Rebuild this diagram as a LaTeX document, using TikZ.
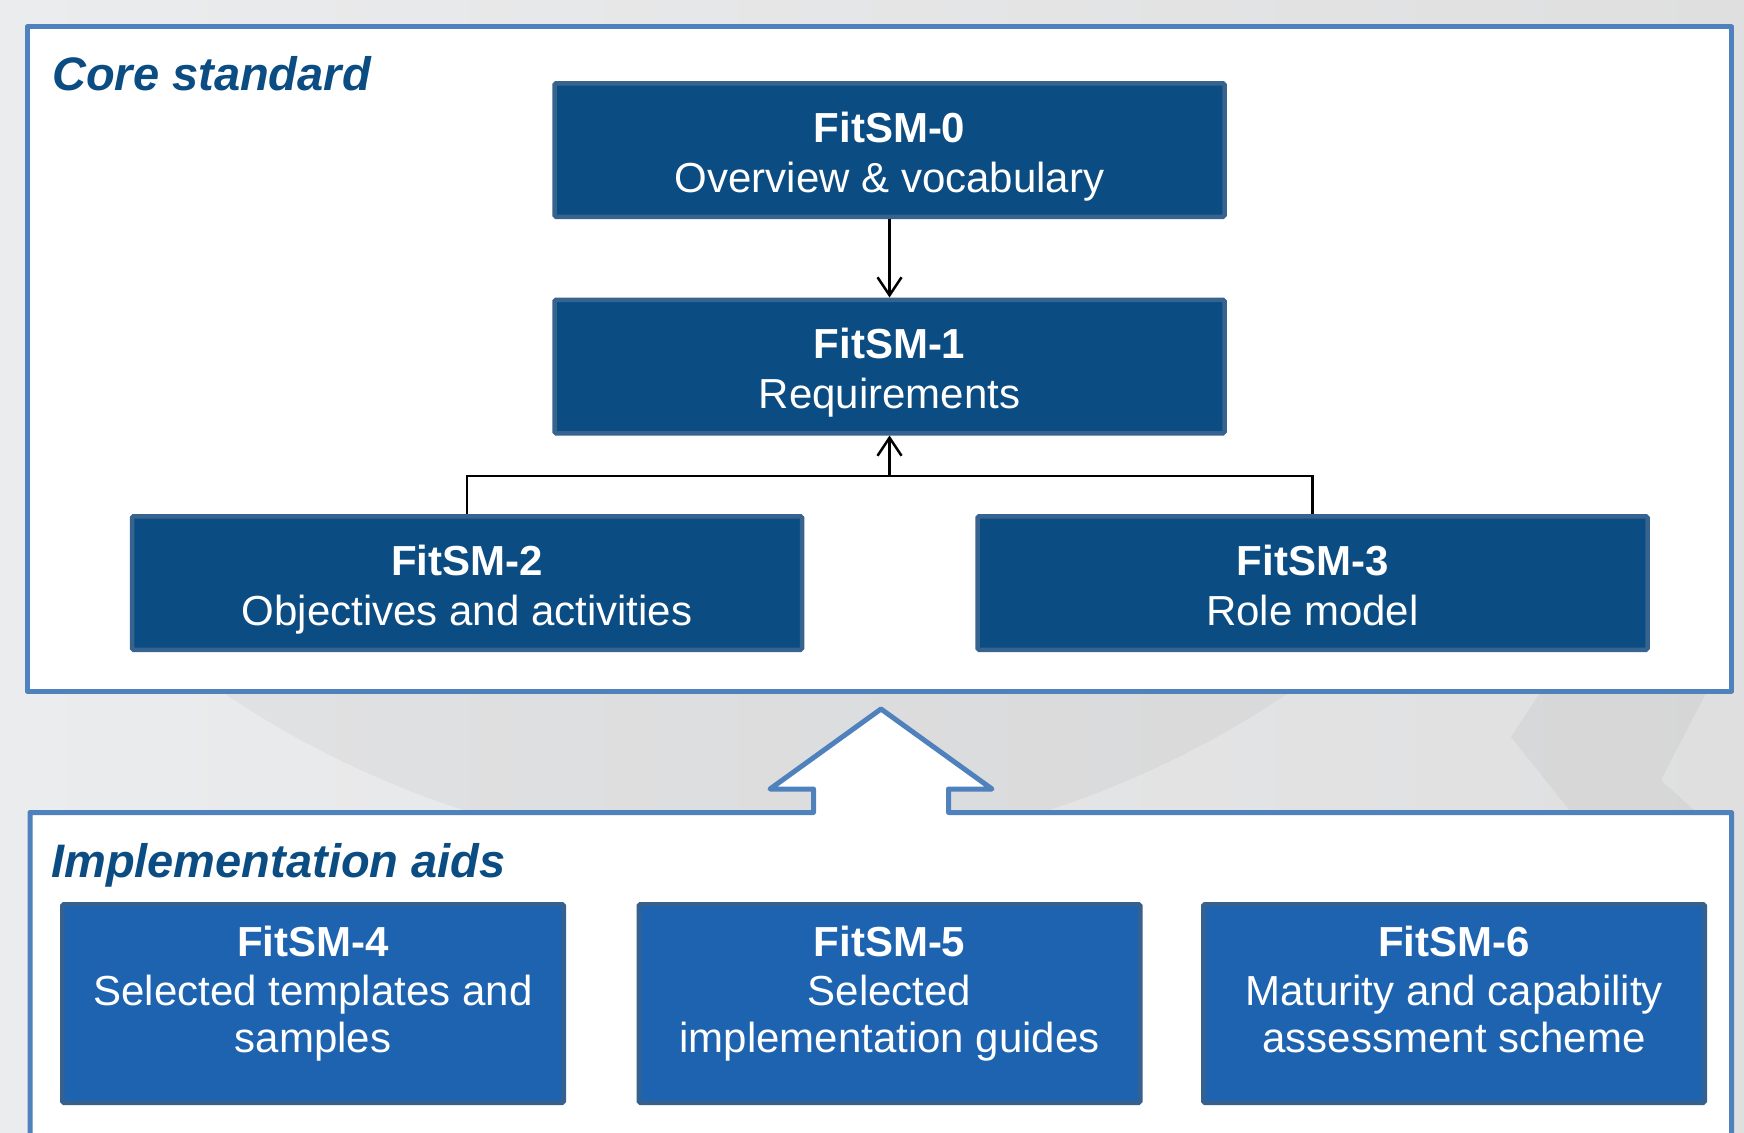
\documentclass[tikz,border=0pt]{standalone}
\usepackage{fontspec}
\setmainfont{Liberation Sans}
\usetikzlibrary{arrows.meta}
\definecolor{framebl}{HTML}{4F81BD}
\definecolor{coredark}{HTML}{0B4C82}
\definecolor{coreedge}{HTML}{37638F}
\definecolor{aidfill}{HTML}{1E63B0}
\definecolor{aidedge}{HTML}{36618E}
\definecolor{headblue}{HTML}{0B4C82}
\definecolor{bgleft}{HTML}{EBECED}
\definecolor{bgright}{HTML}{DFDFE0}
\begin{document}
\begin{tikzpicture}[x=1pt,y=-1pt,
  frame/.style={draw=framebl, fill=white, line width=5pt, line join=round},
  corebox/.style={draw=coreedge, fill=coredark, line width=4.5pt, inner sep=0pt,
    minimum width=670pt, minimum height=133.5pt, rounded corners=1.5pt},
  aidbox/.style={draw=aidedge, fill=aidfill, line width=4.5pt, inner sep=0pt,
    minimum width=501.5pt, minimum height=198.5pt, rounded corners=1.5pt},
  boxhead/.style={anchor=base, inner sep=0pt, text=white,
    font=\fontsize{42pt}{50pt}\selectfont\bfseries},
  boxline/.style={anchor=base, inner sep=0pt, text=white,
    font=\fontsize{42pt}{50pt}\selectfont},
  section/.style={anchor=base west, inner sep=0pt, text=headblue,
    font=\fontsize{47pt}{56pt}\selectfont\bfseries\itshape},
  conn/.style={draw=black, line width=2.5pt},
  tip/.style={-{Straight Barb[length=18pt,width=24pt]}}
]
\useasboundingbox (0,0) rectangle (1744,1132);

% backdrop
\shade[left color=bgleft, right color=bgright] (0,0) rectangle (1744,1132);
\begin{scope}
  \clip (0,680) rectangle (1744,830);
  \fill[black, opacity=0.035] (756,-94) circle[radius=950];
\end{scope}
\fill[black, opacity=0.04] (1541,691) -- (1511,737) -- (1571,812) -- (1696,812)
  -- (1661,780) -- (1707,691) -- cycle;

% core standard frame
\draw[frame] (27,27) rectangle (1731.5,691);
\node[section] (coretitle) at (52,90) {Core standard};

% implementation aids frame with the upward arrow
\draw[frame] (30,1145) -- (30,812.5) -- (813.5,812.5) -- (813.5,789) -- (770,789)
  -- (881,709) -- (992,789) -- (948.5,789) -- (948.5,812.5) -- (1731.5,812.5)
  -- (1731.5,1145) -- cycle;
\node[section] (aidtitle) at (51,877) {Implementation aids};

% core documents
\node[corebox] (f0) at (889.5,150) {};
\node[corebox] (f1) at (889.5,366.5) {};
\node[corebox] (f2) at (467,583) {};
\node[corebox] (f3) at (1312.5,583) {};

\node[boxhead] (f0a) at ([yshift=8pt]f0.center) {FitSM-0};
\node[boxline] (f0b) at ([yshift=-42pt]f0.center) {Overview \& vocabulary};
\node[boxhead] (f1a) at ([yshift=8pt]f1.center) {FitSM-1};
\node[boxline] (f1b) at ([yshift=-42pt]f1.center) {Requirements};
\node[boxhead] (f2a) at ([yshift=8pt]f2.center) {FitSM-2};
\node[boxline] (f2b) at ([yshift=-42pt]f2.center) {Objectives and activities};
\node[boxhead] (f3a) at ([yshift=8pt]f3.center) {FitSM-3};
\node[boxline] (f3b) at ([yshift=-42pt]f3.center) {Role model};

% connectors
\coordinate (jn) at (889.5,476);
\draw[conn, tip] (f0.south) -- (f1.north);
\draw[conn] (f2.north) |- (jn) -| (f3.north);
\draw[conn, tip] (jn) -- (f1.south);

% implementation aid documents
\node[aidbox] (f4) at (313,1003.5) {};
\node[aidbox] (f5) at (889.5,1003.5) {};
\node[aidbox] (f6) at (1454,1003.5) {};

\node[boxhead] (f4a) at ([yshift=47.5pt]f4.center) {FitSM-4};
\node[boxline] (f4b) at ([yshift=-1.5pt]f4.center) {Selected templates and};
\node[boxline] (f4c) at ([yshift=-48.5pt]f4.center) {samples};
\node[boxhead] (f5a) at ([yshift=47.5pt]f5.center) {FitSM-5};
\node[boxline] (f5b) at ([yshift=-1.5pt]f5.center) {Selected};
\node[boxline] (f5c) at ([yshift=-48.5pt]f5.center) {implementation guides};
\node[boxhead] (f6a) at ([yshift=47.5pt]f6.center) {FitSM-6};
\node[boxline] (f6b) at ([yshift=-1.5pt]f6.center) {Maturity and capability};
\node[boxline] (f6c) at ([yshift=-48.5pt]f6.center) {assessment scheme};
\end{tikzpicture}
\end{document}
